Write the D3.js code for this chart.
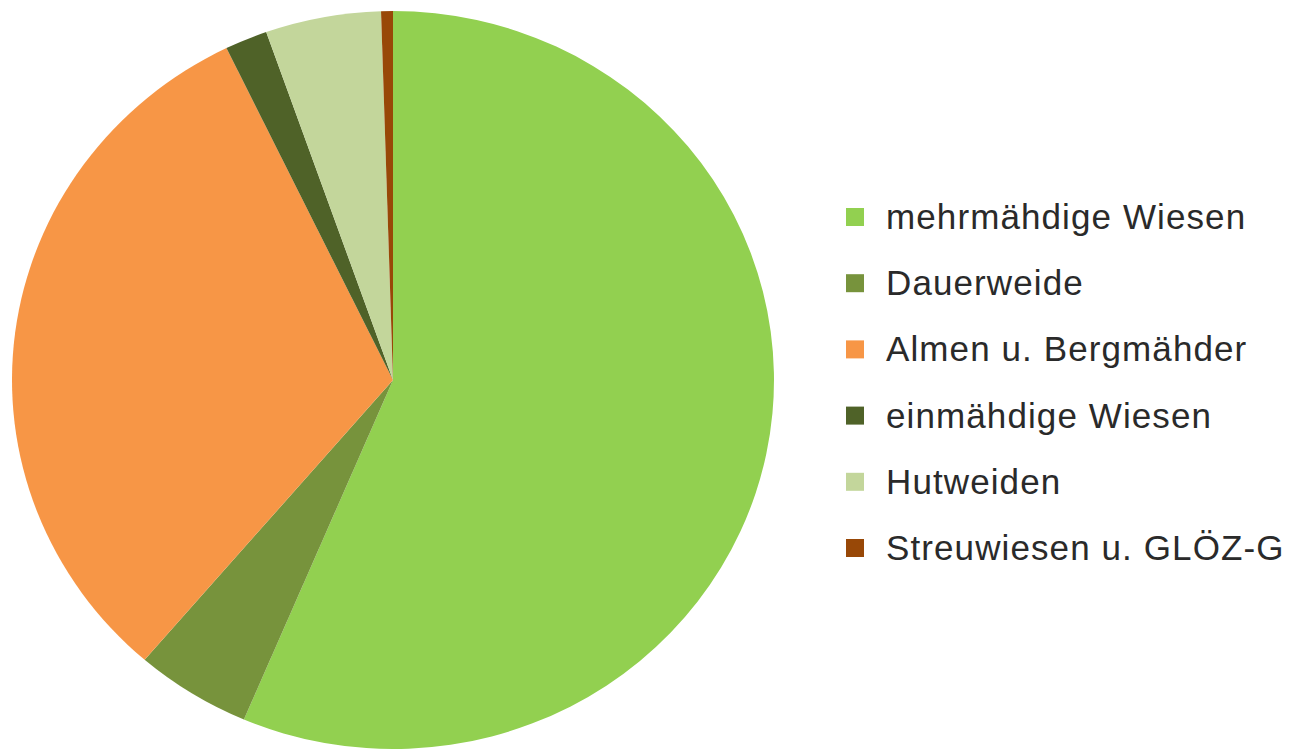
<!DOCTYPE html>
<html>
<head>
<meta charset="utf-8">
<script src="https://cdn.jsdelivr.net/npm/d3@7"></script>
<style>
  body { margin: 0; background: #fff; }
  svg { display: block; }
</style>
</head>
<body>
<div id="chart"></div>
<script>
// categories and shares (percent), clockwise from 12 o'clock
var categories = ["mehrmähdige Wiesen", "Dauerweide", "Almen u. Bergmähder",
                  "einmähdige Wiesen", "Hutweiden", "Streuwiesen u. GLÖZ-G"];
var shares = [56.4, 4.9, 31.5, 1.8, 4.9, 0.5];
var colors = ["#92d050", "#77933c", "#f79646", "#4f6228", "#c3d69b", "#984807"];

var W = 1297, H = 749;
var cx = 393, cy = 380, rx = 381, ry = 369;

var svg = d3.select("#chart").append("svg")
    .attr("width", W)
    .attr("height", H);

var data = categories.map(function(c, i) { return {name: c, value: shares[i], color: colors[i]}; });

var pie = d3.pie().sort(null).value(function(d) { return d.value; });
var arc = d3.arc().innerRadius(0).outerRadius(ry);

// slightly wider than tall, like the original
var g = svg.append("g")
    .attr("transform", "translate(" + cx + "," + cy + ") scale(" + (rx / ry) + ",1)");

g.selectAll("path")
    .data(pie(data))
    .enter()
    .append("path")
    .attr("d", arc)
    .attr("fill", function(d) { return d.data.color; });

// legend
var legY = d3.scalePoint().domain(categories).range([217, 548]);

var leg = svg.append("g").selectAll("g")
    .data(data)
    .enter()
    .append("g")
    .attr("transform", function(d) { return "translate(846," + legY(d.name) + ")"; });

leg.append("rect")
    .attr("x", 0)
    .attr("y", -9)
    .attr("width", 18)
    .attr("height", 18)
    .attr("fill", function(d) { return d.color; });

leg.append("text")
    .attr("x", 40)
    .attr("y", 12)
    .attr("font-family", "Liberation Sans, Arial, sans-serif")
    .attr("font-size", 35)
    .attr("letter-spacing", 1.1)
    .attr("fill", "#2a2a2a")
    .text(function(d) { return d.name; });
</script>
</body>
</html>
